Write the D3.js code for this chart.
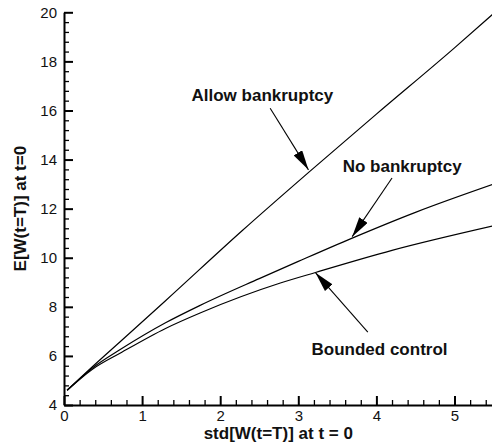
<!DOCTYPE html>
<html>
<head>
<meta charset="utf-8">
<script src="https://cdn.jsdelivr.net/npm/d3@7"></script>
<style>
  body { margin: 0; background: #fff; }
  svg { display: block; font-family: "Liberation Sans", Arial, sans-serif; }
  .tick text { font-size: 15px; fill: #111; }
  .title { font-size: 17px; font-weight: bold; fill: #111; }
  .note { font-size: 17px; font-weight: bold; fill: #111; }
  .curve { fill: none; stroke: #000; stroke-width: 1.2; }
</style>
</head>
<body>
<svg width="492" height="447"></svg>
<script>
// values
const allowX   = [0.04, 0.36, 0.74, 1.3, 2.28, 3.14, 4.0, 5.0, 5.5];
const allowY   = [4.6, 5.55, 6.64, 8.25, 11.1, 13.5, 15.85, 18.55, 19.95];
const noBankX  = [0.04, 0.36, 0.74, 1.3, 1.75, 2.5, 3.0, 3.69, 4.5, 5.5];
const noBankY  = [4.6, 5.5, 6.3, 7.35, 8.07, 9.15, 9.85, 10.8, 11.85, 13.0];
const boundX   = [0.04, 0.36, 0.74, 1.3, 1.75, 2.77, 3.22, 4.2, 5.5];
const boundY   = [4.6, 5.45, 6.15, 7.12, 7.76, 8.97, 9.4, 10.3, 11.3];

const xMajor = [0, 1, 2, 3, 4, 5];
const yMajor = [4, 6, 8, 10, 12, 14, 16, 18, 20];

const noteText = ["Allow bankruptcy", "No bankruptcy", "Bounded control"];
const noteAt   = [[2.54, 16.39], [4.33, 13.49], [4.04, 6.04]];
const arrowFrom = [[2.64, 16.09], [4.20, 13.25], [3.89, 6.97]];
const arrowTo   = [[3.13, 13.58], [3.69, 10.86], [3.22, 9.39]];

const margin = {left: 64, top: 12.3};
const width = 5.5 * 78.1, height = 392.7;

const svg = d3.select("svg");
const g = svg.append("g").attr("transform", "translate(" + margin.left + "," + margin.top + ")");

const x = d3.scaleLinear().domain([0, 5.5]).range([0, width]);
const y = d3.scaleLinear().domain([4, 20]).range([height, 0]);

const xMinor = d3.range(0, 5.51, 0.2).filter(v => Math.abs(v - Math.round(v)) > 1e-6);
const yMinor = d3.range(4, 20.01, 0.4).filter(v => Math.abs(v / 2 - Math.round(v / 2)) > 1e-6);

// minor ticks
g.append("g").attr("transform", "translate(0," + height + ")")
  .call(d3.axisBottom(x).tickValues(xMinor).tickFormat("").tickSizeInner(-5).tickSizeOuter(0))
  .call(a => a.select(".domain").remove())
  .selectAll("line").attr("stroke-width", 1.3);
g.append("g")
  .call(d3.axisLeft(y).tickValues(yMinor).tickFormat("").tickSizeInner(-5).tickSizeOuter(0))
  .call(a => a.select(".domain").remove())
  .selectAll("line").attr("stroke-width", 1.3);

// major ticks
const xAxis = g.append("g").attr("transform", "translate(0," + height + ")")
  .call(d3.axisBottom(x).tickValues(xMajor).tickFormat(d3.format("d")).tickSizeInner(-9).tickSizeOuter(0).tickPadding(4));
const yAxis = g.append("g")
  .call(d3.axisLeft(y).tickValues(yMajor).tickFormat(d3.format("d")).tickSizeInner(-9).tickSizeOuter(0).tickPadding(7));
[xAxis, yAxis].forEach(a => {
  a.selectAll("line").attr("stroke-width", 2);
  a.select(".domain").attr("stroke-width", 2);
  a.selectAll("text").attr("font-family", null).attr("font-size", null);
});
xAxis.selectAll("text").attr("dy", "0.8em");

const line = d3.line().x(d => x(d[0])).y(d => y(d[1])).curve(d3.curveMonotoneX);
[[allowX, allowY], [noBankX, noBankY], [boundX, boundY]].forEach(([xs, ys]) => {
  g.append("path").attr("class", "curve").attr("d", line(d3.zip(xs, ys)));
});

// annotations
svg.append("defs").append("marker")
  .attr("id", "head").attr("viewBox", "0 0 20 10")
  .attr("refX", 20).attr("refY", 5)
  .attr("markerUnits", "userSpaceOnUse")
  .attr("markerWidth", 20).attr("markerHeight", 10)
  .attr("orient", "auto")
  .append("path").attr("d", "M0,0L20,5L0,10Z").attr("fill", "#000");

noteText.forEach((t, i) => {
  g.append("text").attr("class", "note")
    .attr("x", x(noteAt[i][0])).attr("y", y(noteAt[i][1]))
    .attr("text-anchor", "middle").text(t);
  g.append("line")
    .attr("x1", x(arrowFrom[i][0])).attr("y1", y(arrowFrom[i][1]))
    .attr("x2", x(arrowTo[i][0])).attr("y2", y(arrowTo[i][1]))
    .attr("stroke", "#000").attr("stroke-width", 1.1)
    .attr("marker-end", "url(#head)");
});

// axis titles
g.append("text").attr("class", "title")
  .attr("x", width / 2 - 0.5).attr("y", height + 34.5)
  .attr("text-anchor", "middle").text("std[W(t=T)] at t = 0");
g.append("text").attr("class", "title")
  .attr("transform", "translate(" + (-margin.left + 26) + "," + (height / 2) + ") rotate(-90)")
  .attr("text-anchor", "middle").text("E[W(t=T)] at t=0");
</script>
</body>
</html>
